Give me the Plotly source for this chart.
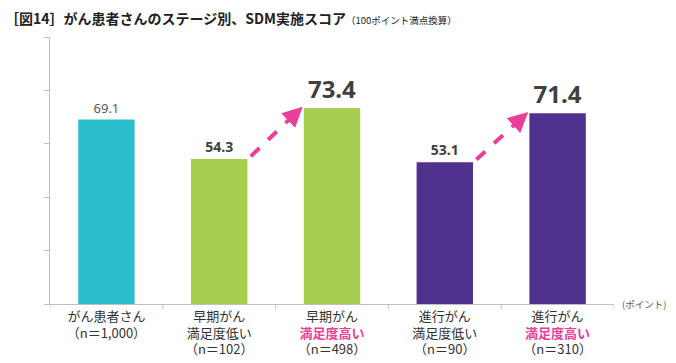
import plotly.graph_objects as go

categories = ["がん患者さん<br>（n＝1,000）",
              "早期がん<br>満足度低い<br>（n＝102）",
              "早期がん<br><span style='color:#E8409A'><b>満足度高い</b></span><br>（n＝498）",
              "進行がん<br>満足度低い<br>（n＝90）",
              "進行がん<br><span style='color:#E8409A'><b>満足度高い</b></span><br>（n＝310）"]
values = [69.1, 54.3, 73.4, 53.1, 71.4]
colors = ["#2BBFCE", "#A8CE50", "#A8CE50", "#4F318E", "#4F318E"]
label_sizes = [13, 14, 24, 14, 24]
label_colors = ["#595959", "#404040", "#404040", "#404040", "#404040"]
label_bold = [False, True, True, True, True]
xpos = list(range(len(values)))

texts = [f"<b>{v}</b>" if b else f"{v}" for v, b in zip(values, label_bold)]

fig = go.Figure()
fig.add_trace(go.Bar(
    x=xpos, y=values, width=0.5, marker=dict(color=colors, line=dict(width=0)),
    text=texts, textposition="outside", cliponaxis=False,
    textfont=dict(size=label_sizes, color=label_colors, family="Noto Sans, Noto Sans CJK JP"),
    hoverinfo="skip",
))

pink = "#E8409A"
# dashed arrows from low to high
for lo, hi in [(1, 2), (3, 4)]:
    x0 = lo + 0.28
    y0 = values[lo] + 1.0
    x1 = hi - 0.26
    y1 = values[hi] + 0.5
    fx = x0 + (x1 - x0) * 0.8
    fy = y0 + (y1 - y0) * 0.8
    fig.add_shape(type="line", xref="x", yref="y", x0=x0, y0=y0, x1=fx, y1=fy,
                  line=dict(color=pink, width=4, dash="dash"))
    fig.add_annotation(x=x1, y=y1, ax=fx, ay=fy, xref="x", yref="y", axref="x", ayref="y",
                       showarrow=True, arrowhead=2, arrowsize=1.0, arrowwidth=4,
                       arrowcolor=pink, text="", standoff=0)

fig.add_annotation(
    text="<b>［図14］がん患者さんのステージ別、SDM実施スコア</b><span style='font-size:9.5px'>（100ポイント満点換算）</span>",
    xref="paper", yref="paper", x=-47/562, y=1 + 19/267, xanchor="left", yanchor="middle",
    showarrow=False, font=dict(size=14, color="#222222", family="Noto Sans CJK JP"))

fig.add_annotation(text="(ポイント)", xref="paper", yref="y", x=1.01, y=0,
                   xanchor="left", yanchor="middle", showarrow=False,
                   font=dict(size=9.5, color="#595959", family="Noto Sans CJK JP"))

fig.update_layout(
    width=676, height=363,
    margin=dict(l=50, r=62, t=37, b=59),
    paper_bgcolor="white", plot_bgcolor="white",
    showlegend=False,
    font=dict(family="Noto Sans CJK JP", color="#333333"),
    xaxis=dict(tickvals=xpos, ticktext=categories, range=[-0.5, 4.5], automargin=False,
               showline=True, linecolor="#BFBFBF", linewidth=1,
               ticks="", tickfont=dict(size=13, color="#333333"),
               showgrid=False, zeroline=False),
    yaxis=dict(range=[0, 100], dtick=20, showline=True, linecolor="#BFBFBF", automargin=False,
               ticks="outside", ticklen=5, tickcolor="#BFBFBF",
               showticklabels=False, showgrid=False, zeroline=False),
)

# category boundary ticks on the x axis
for b in [i - 0.5 for i in range(len(values) + 1)]:
    fig.add_shape(type="line", xref="x", yref="paper", x0=b, x1=b, y0=0, y1=-5/267,
                  line=dict(color="#BFBFBF", width=1))

fig.write_html("out.html", config={"displayModeBar": False},
               post_script="document.body.style.margin='0';document.body.style.overflow='hidden';")
